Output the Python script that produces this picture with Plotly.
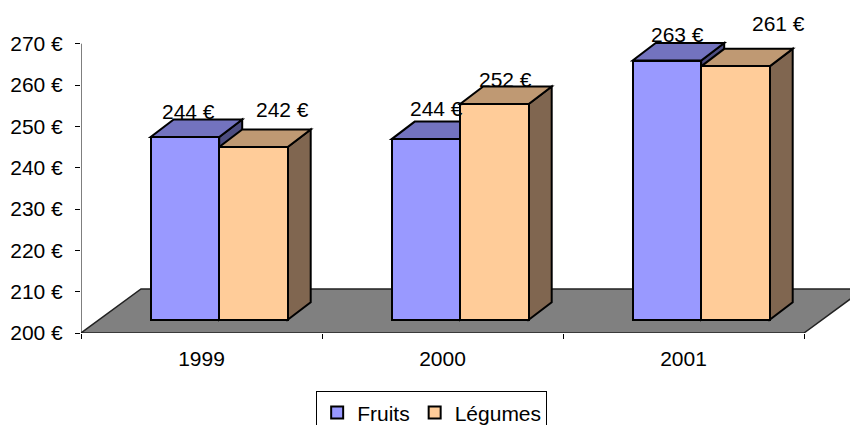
import plotly.graph_objects as go

# ---- data ----
years = ["1999", "2000", "2001"]
fruits = [244.2, 243.7, 262.7]
legumes = [241.8, 252.2, 261.3]
series_names = ["Fruits", "Légumes"]
y_ticks = [200, 210, 220, 230, 240, 250, 260, 270]
y_ticktext = [f"{v} €" for v in y_ticks]

# ---- style / geometry (pixels) ----
W, H = 850, 425
ML, MB = 81, 92
PX_PER_CAT = 241.0
PX_PER_EUR = 4.133
Y0 = 200
FLOOR_DX, FLOOR_DY = 60, 44        # floor depth
FRONT_DX, FRONT_DY = 17.7, 13.3    # bar front plane depth
BOX_DX, BOX_DY = 23, 17.5          # bar depth
BAR_W = 68.5
FONT = dict(family="Liberation Sans, Arial, sans-serif", size=21, color="black")

front_cols = ["#9999FF", "#FFCC99"]
top_cols = ["#7373BF", "#BF9973"]
side_cols = ["#4D4D80", "#806650"]
# label offsets in px relative to bar front-top centre (dx, dy up)
lab_off = [[(3.5, 26), (10.5, 31), (11, 26)],
           [(29, 37), (11, 24), (43, 43)]]

cx = lambda px: px / PX_PER_CAT
cy = lambda px: px / PX_PER_EUR

x_range = [-0.5, -0.5 + cx(W - ML)]
y_range = [Y0, Y0 + cy(H - MB)]

fig = go.Figure()
shapes = []
# floor
fx, fy = cx(FLOOR_DX), cy(FLOOR_DY)
shapes.append(dict(
    type="path", xref="x", yref="y", layer="below",
    path=f"M{-0.5},{Y0} L{2.5},{Y0} L{2.5 + fx},{Y0 + fy} L{-0.5 + fx},{Y0 + fy} Z",
    fillcolor="#808080", line=dict(color="#222222", width=1.5)))

base = Y0 + cy(FRONT_DY)
bw = cx(BAR_W)
bdx, bdy = cx(BOX_DX), cy(BOX_DY)
annotations = []
all_vals = [fruits, legumes]
for i in range(len(years)):
    for s, vals in enumerate(all_vals):
        v = vals[i]
        xc = i + cx(FRONT_DX) + (s - 0.5) * bw
        xl, xr = xc - bw / 2, xc + bw / 2
        top = v + cy(FRONT_DY)
        shapes.append(dict(
            type="path", xref="x", yref="y", layer="below",
            path=f"M{xr},{base} L{xr},{top} L{xr + bdx},{top + bdy} L{xr + bdx},{base + bdy} Z",
            fillcolor=side_cols[s], line=dict(color="black", width=2)))
        shapes.append(dict(
            type="path", xref="x", yref="y", layer="below",
            path=f"M{xl},{top} L{xr},{top} L{xr + bdx},{top + bdy} L{xl + bdx},{top + bdy} Z",
            fillcolor=top_cols[s], line=dict(color="black", width=2)))
        ox, oy = lab_off[s][i]
        annotations.append(dict(
            x=xc + cx(ox), y=top + cy(oy), xref="x", yref="y",
            text=f"{round(v)} €", showarrow=False, font=FONT,
            xanchor="center", yanchor="middle"))

for s, vals in enumerate(all_vals):
    xs = [i + cx(FRONT_DX) + (s - 0.5) * bw for i in range(len(years))]
    fig.add_trace(go.Bar(
        x=xs, y=[v - base + cy(FRONT_DY) for v in vals], base=base,
        width=bw, name=series_names[s],
        marker=dict(color=front_cols[s], line=dict(color="black", width=2)),
        hoverinfo="skip"))

# y axis line
shapes.append(dict(type="line", xref="x", yref="y", x0=-0.5, x1=-0.5,
                   y0=Y0, y1=y_ticks[-1], line=dict(color="black", width=1)))

fig.update_layout(
    width=W, height=H,
    margin=dict(l=ML, r=0, t=0, b=MB, autoexpand=False),
    paper_bgcolor="white", plot_bgcolor="white",
    barmode="overlay", bargap=0,
    font=FONT,
    shapes=shapes, annotations=annotations,
    showlegend=True,
    legend=dict(orientation="h", x=0.456, xanchor="center", y=-0.175, yanchor="top",
                bordercolor="black", borderwidth=1, font=FONT,
                itemwidth=30, tracegroupgap=0),
    xaxis=dict(range=x_range, showgrid=False, zeroline=False, showline=False,
               automargin=False,
               tickvals=[0, 1, 2], ticktext=years, ticks="outside", ticklen=5,
               tickcolor="rgba(0,0,0,0)", ticklabelstandoff=2,
               minor=dict(tickvals=[-0.5, 0.5, 1.5, 2.5], ticks="outside",
                          ticklen=5, tickcolor="black", showgrid=False),
               fixedrange=True),
    yaxis=dict(range=y_range, showgrid=False, zeroline=False, showline=False,
               automargin=False,
               tickvals=y_ticks, ticktext=y_ticktext, ticks="outside", ticklen=5,
               tickcolor="black", ticklabelstandoff=8, fixedrange=True),
)

fig.write_html(
    "out.html",
    config={"displayModeBar": False},
    post_script="document.body.style.margin='0';document.body.style.overflow='hidden';",
)
